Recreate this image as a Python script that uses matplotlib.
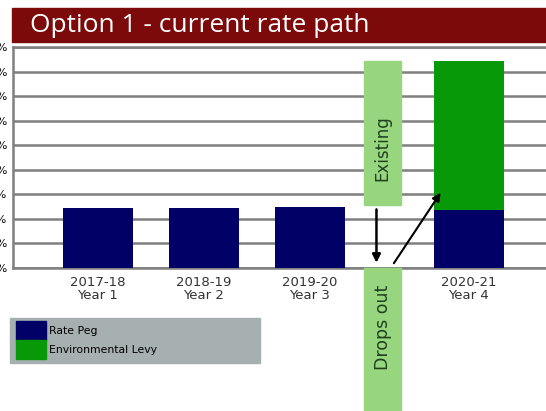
import numpy as np
import matplotlib.pyplot as plt
from matplotlib.patches import Rectangle

# data
labels = ['2017-18\nYear 1', '2018-19\nYear 2', '2019-20\nYear 3', '2020-21\nYear 4']
positions = [0, 1, 2, 3.5]
rate_peg = [1.22, 1.22, 1.24, 1.18]
env_levy = [0, 0, 0, 3.03]
yticks = np.arange(0, 4.51, 0.5)
ytick_labels = ['%.1f%%' % t for t in yticks]

navy = '#000066'
green = '#079907'
grey = '#7f7f7f'
light_green = '#97d67f'

fig = plt.figure(figsize=(5.46, 4.11), dpi=100)
ax = fig.add_axes([13 / 546, 1 - 268 / 411, 1 - 13 / 546, 221 / 411])

# bars
ax.bar(positions, rate_peg, width=0.66, color=navy, zorder=3)
ax.bar(positions, env_levy, width=0.66, bottom=rate_peg, color=green, zorder=3)

ax.set_xlim(-0.80, 4.23)
ax.set_ylim(0, 4.5)
ax.set_yticks(yticks)
ax.set_yticklabels(ytick_labels, fontsize=8, color='black')
ax.set_xticks(positions)
ax.set_xticklabels(labels, fontsize=9.5, color='#333333', linespacing=1.0)
ax.tick_params(length=0, pad=4)
ax.tick_params(axis='x', pad=6)
ax.grid(axis='y', color=grey, linewidth=1.8, zorder=1)
for side in ['left', 'top', 'bottom']:
    ax.spines[side].set_color(grey)
    ax.spines[side].set_linewidth(1.8)
ax.spines['right'].set_visible(False)

# "Existing" / "Drops out" boxes between year 3 and year 4
bx = 2.69
bw = 0.35
existing_box = Rectangle((bx - bw / 2, 1.29), bw, 2.92, color=light_green,
                         zorder=4, clip_on=False)
ax.add_patch(existing_box)
ax.text(bx, 2.45, 'Existing', rotation=90, ha='center', va='center',
        fontsize=12, color='#1d401d', zorder=5)
drops_box = Rectangle((bx - bw / 2, -2.95), bw, 2.95, color=light_green,
                      zorder=4, clip_on=False)
ax.add_patch(drops_box)
ax.text(bx, -1.2, 'Drops out', rotation=90, ha='center', va='center',
        fontsize=12.5, color='#1d401d', zorder=5, clip_on=False)

# arrows
ax.annotate('', xy=(2.63, 0.05), xytext=(2.63, 1.25),
            arrowprops=dict(arrowstyle='-|>', color='black', lw=1.8,
                            mutation_scale=12), zorder=6)
ax.annotate('', xy=(3.25, 1.58), xytext=(2.78, 0.05),
            arrowprops=dict(arrowstyle='-|>', color='black', lw=1.5,
                            mutation_scale=12), zorder=6)

# title band
fig.patches.append(Rectangle((12 / 546, 1 - 42 / 411), 1, 34 / 411,
                             transform=fig.transFigure, color='#7d0a0a', zorder=0))
fig.text(30 / 546, 1 - 25 / 411, 'Option 1 - current rate path', color='white',
         fontsize=19, family='Open Sans', va='center', ha='left')

# legend box
fig.patches.append(Rectangle((10 / 546, 1 - 363 / 411), 250 / 546, 45 / 411,
                             transform=fig.transFigure, color='#a7b0b0', zorder=0))
fig.patches.append(Rectangle((16 / 546, 1 - 340 / 411), 30 / 546, 19 / 411,
                             transform=fig.transFigure, color=navy, zorder=1))
fig.patches.append(Rectangle((16 / 546, 1 - 359 / 411), 30 / 546, 19 / 411,
                             transform=fig.transFigure, color=green, zorder=1))
fig.text(49 / 546, 1 - 331 / 411, 'Rate Peg', fontsize=7.8, color='black',
         va='center', ha='left', family='Liberation Sans Narrow')
fig.text(49 / 546, 1 - 350 / 411, 'Environmental Levy', fontsize=7.8, color='black',
         va='center', ha='left', family='Liberation Sans Narrow')

fig.savefig('out.png', dpi=100)
